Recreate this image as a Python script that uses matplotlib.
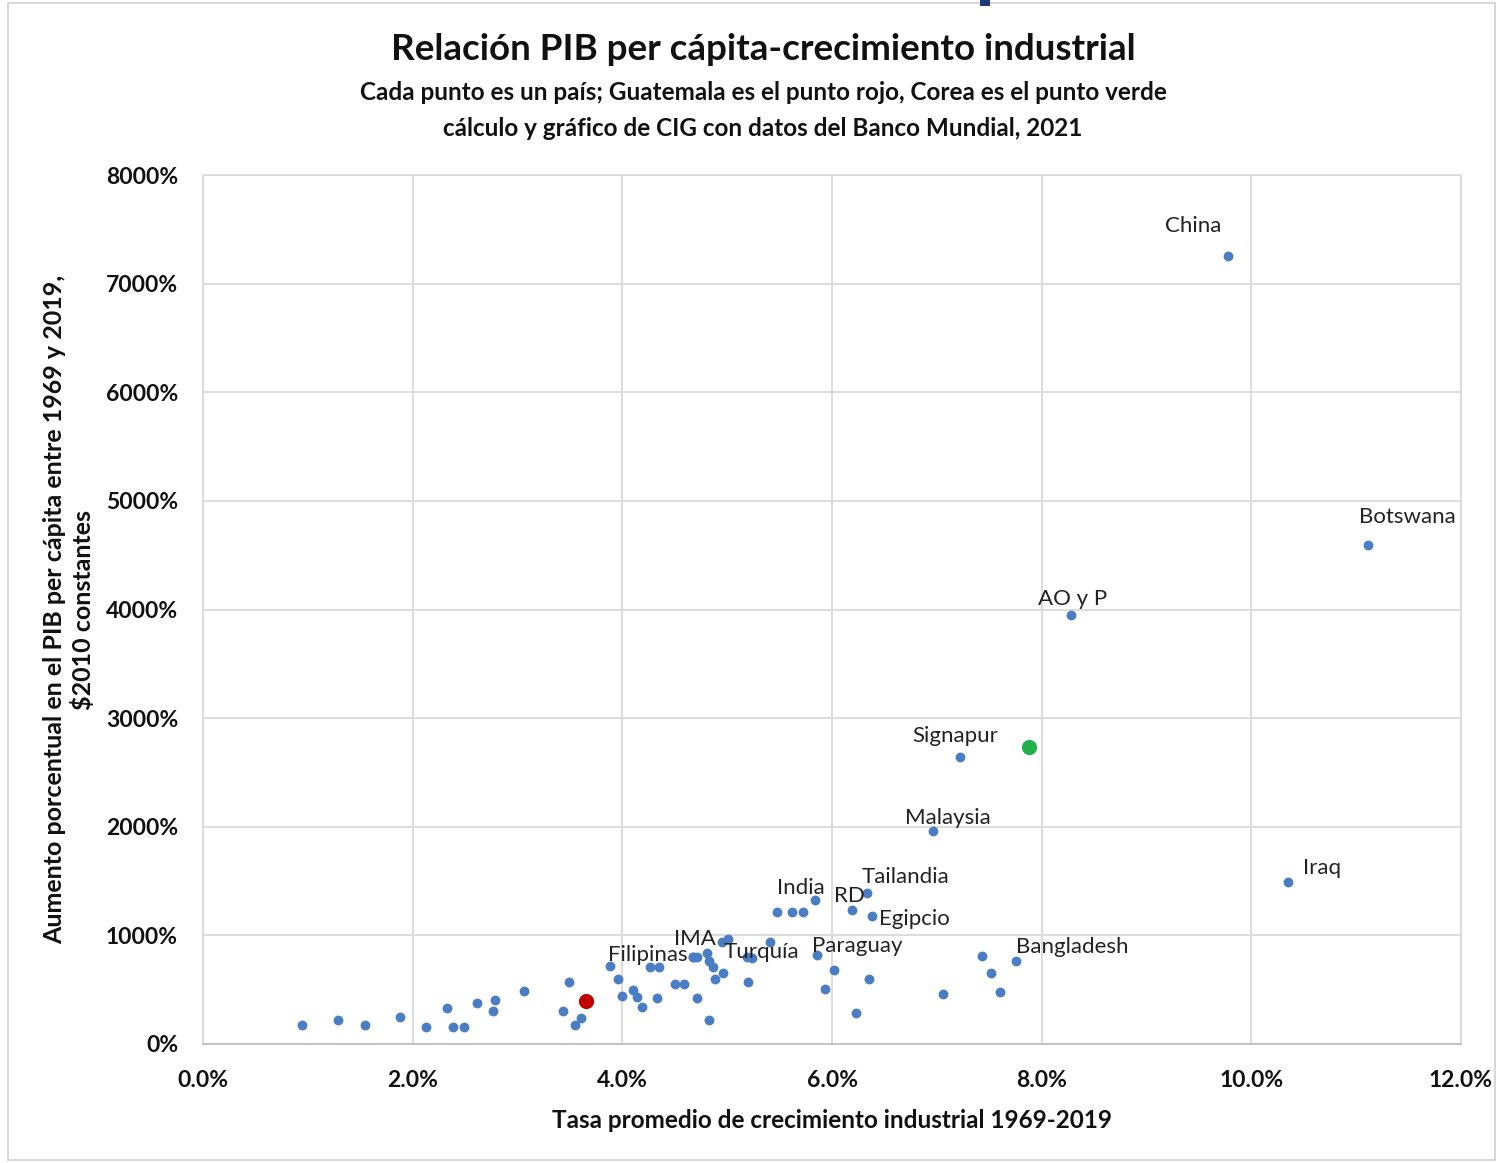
import matplotlib
matplotlib.use("Agg")
import matplotlib.pyplot as plt
from matplotlib.patches import Rectangle

plt.rcParams['font.family'] = ['Lato', 'DejaVu Sans']

# Unlabelled countries: industrial growth (%) and GDP per capita increase (%)
x_vals = [0.944, 1.288, 1.545, 1.879, 2.127, 2.328, 2.385, 2.490, 2.614, 2.785,
          2.766, 3.062, 3.491, 3.434, 3.549, 3.606, 3.959, 3.997, 4.102, 4.140,
          4.188, 4.264, 4.350, 4.331, 4.503, 4.588, 4.674, 4.712, 4.712, 4.808,
          4.827, 4.865, 4.884, 4.960, 4.827, 4.951, 5.008, 5.237, 5.199, 5.409,
          5.475, 5.619, 5.724, 6.019, 5.933, 6.353, 6.229, 7.059, 7.431, 7.517,
          7.603]
y_vals = [175, 221, 175, 249, 157, 331, 157, 157, 377, 405,
          304, 488, 571, 304, 175, 239, 598, 442, 497, 433,
          341, 709, 709, 423, 552, 552, 801, 801, 423, 838,
          764, 709, 598, 654, 221, 939, 967, 792, 571, 939,
          1215, 1215, 1215, 681, 506, 598, 285, 460, 810, 654,
          479]

# Labelled countries
lab_names = ["China", "Botswana", "AO y P", "Signapur", "Malaysia", "Iraq",
             "Bangladesh", "Tailandia", "Egipcio", "RD", "India", "Paraguay",
             "Turquía", "IMA", "Filipinas"]
lab_x = [9.778, 11.113, 8.280, 7.221, 6.964, 10.350,
         7.755, 6.334, 6.382, 6.191, 5.838, 5.857,
         5.189, 4.674, 3.882]
lab_y = [7254, 4594, 3949, 2642, 1961, 1491,
         764, 1390, 1178, 1234, 1326, 819,
         801, 801, 718]
# label offsets in pixels (dx, dy) relative to point, and alignment
lab_off = [(-35, 30), (39, 28), (2, 16), (-5, 21), (15, 13), (34, 14),
           (0, 14), (-5, 16), (7, -3), (-3, 14), (-14, 12), (-5, 9),
           (14, 5), (2, 18), (-2, 11)]
lab_ha = ["center", "center", "center", "center", "center", "center",
          "left", "left", "left", "center", "center", "left",
          "center", "center", "left"]

# Highlighted countries
guate_x, guate_y = [3.654], [396]
corea_x, corea_y = [7.879], [2734]

x_ticks = [0, 2, 4, 6, 8, 10, 12]
x_tick_labels = ["0.0%", "2.0%", "4.0%", "6.0%", "8.0%", "10.0%", "12.0%"]
y_ticks = [0, 1000, 2000, 3000, 4000, 5000, 6000, 7000, 8000]
y_tick_labels = ["0%", "1000%", "2000%", "3000%", "4000%", "5000%", "6000%", "7000%", "8000%"]

W, H = 1501, 1163
fig = plt.figure(figsize=(W / 100, H / 100), dpi=100)
fig.patch.set_facecolor("white")

# outer frame and top artifact
fig.patches.append(Rectangle((8 / W, 3 / H), (1495 - 8) / W, (1160 - 3) / H,
                             transform=fig.transFigure, fill=False,
                             edgecolor="#d0d0d0", linewidth=1.2))
fig.patches.append(Rectangle((980 / W, 1 - 6 / H), 10 / W, 6 / H,
                             transform=fig.transFigure, facecolor="#1f3a78",
                             edgecolor="none"))

ax = fig.add_axes([203 / W, 1 - 1044 / H, (1461 - 203) / W, (1044 - 175) / H])
ax.set_xlim(0, 12)
ax.set_ylim(0, 8000)
ax.set_xticks(x_ticks)
ax.set_xticklabels(x_tick_labels, fontsize=16.5, fontweight="bold", color="#111111")
ax.set_yticks(y_ticks)
ax.set_yticklabels(y_tick_labels, fontsize=16.5, fontweight="bold", color="#111111")
ax.tick_params(axis="both", length=0)
ax.tick_params(axis="x", pad=19)
ax.tick_params(axis="y", pad=18)
ax.grid(True, color="#d9d9d9", linewidth=1.3)
ax.set_axisbelow(True)
for s in ["top", "right", "left"]:
    ax.spines[s].set_color("#d9d9d9")
    ax.spines[s].set_linewidth(1.3)
ax.spines["bottom"].set_color("#bfbfbf")
ax.spines["bottom"].set_linewidth(1.3)

blue = "#4a7dc4"
ax.scatter(x_vals, y_vals, s=50, color=blue, zorder=3, linewidths=0)
ax.scatter(lab_x, lab_y, s=50, color=blue, zorder=3, linewidths=0)
ax.scatter(guate_x, guate_y, s=120, color="#c00000", zorder=4, linewidths=0)
ax.scatter(corea_x, corea_y, s=120, color="#1fb04b", zorder=4, linewidths=0)

for name, xv, yv, (dx, dy), ha in zip(lab_names, lab_x, lab_y, lab_off, lab_ha):
    ax.annotate(name, (xv, yv), xytext=(dx * 0.72, dy * 0.72),
                textcoords="offset points", ha=ha, va="center",
                fontsize=16, color="#222222", zorder=5)

ax.set_xlabel("Tasa promedio de crecimiento industrial 1969-2019",
              fontsize=17.5, fontweight="bold", labelpad=13, color="#111111")
ax.set_ylabel("Aumento porcentual en el PIB per cápita entre 1969 y 2019,\n\\$2010 constantes",
              fontsize=18, fontweight="bold", labelpad=8, linespacing=1.2, color="#111111")

fig.text(763 / W, 1 - 50 / H, "Relación PIB per cápita-crecimiento industrial",
         ha="center", va="center", fontsize=26.5, fontweight="bold", color="#111111")
fig.text(763 / W, 1 - 93 / H, "Cada punto es un país; Guatemala es el punto rojo, Corea es el punto verde",
         ha="center", va="center", fontsize=17.5, fontweight="bold", color="#111111")
fig.text(763 / W, 1 - 128 / H, "cálculo y gráfico de CIG con datos del Banco Mundial, 2021",
         ha="center", va="center", fontsize=17.5, fontweight="bold", color="#111111")

fig.savefig("out.png", dpi=100)
